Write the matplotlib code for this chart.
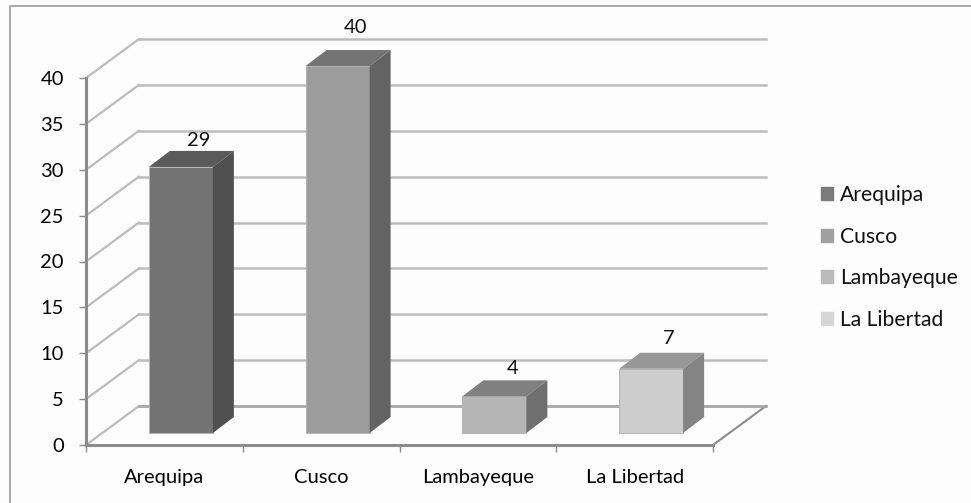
import matplotlib
matplotlib.use("Agg")
import matplotlib.pyplot as plt
import numpy as np
from matplotlib.lines import Line2D
from matplotlib.patches import Rectangle

categories = ["Arequipa", "Cusco", "Lambayeque", "La Libertad"]
values = [29, 40, 4, 7]
y_ticks = [0, 5, 10, 15, 20, 25, 30, 35, 40]

front_colors = ["#737373", "#9c9c9c", "#b5b5b5", "#cdcdcd"]
top_colors = ["#5a5a5a", "#747474", "#808080", "#979797"]
side_colors = ["#505050", "#636363", "#6f6f6f", "#848484"]
legend_colors = ["#7b7b7b", "#a0a0a0", "#bababa", "#d6d6d6"]
label_gaps = [0.25, 1.5, 0.35, 0.6]  # gap over each bar's top, in value units

W, H = 971, 503
X0, X1 = 86, 713  # front floor edge, px
Y0, Y40 = 445, 78  # value 0 and 40 on the front axis, px
ux = (X1 - X0) / len(categories)  # px per category
uy = (Y0 - Y40) / 40  # px per value

# oblique offsets in data units
wall_dx, wall_dy = 53 / ux, 39 / uy
depth_dx, depth_dy = 21 / ux, 16 / uy
lift = 12 / uy
bar_width = 64 / ux
bar_shift = 16.5 / ux

plt.rcParams["font.family"] = ["Lato", "DejaVu Sans"]
plt.rcParams["text.color"] = "#111111"

fig = plt.figure(figsize=(W / 100, H / 100), dpi=100, facecolor="#fdfdfd")
# only the left and top of the outer frame are in the crop
fig.add_artist(Line2D([10 / W, 10 / W, 1], [0, 1 - 6 / H, 1 - 6 / H], transform=fig.transFigure,
                      color="#a9a9a9", lw=1.4))

ax = fig.add_axes([X0 / W, 1 - Y0 / H, (X1 - X0) / W, (Y0 - Y40) / H])
ax.set_facecolor("none")
ax.set_xlim(0, 4)
ax.set_ylim(0, 40)

# gridlines on the back wall and the side wall
for v in y_ticks:
    ax.plot([0, wall_dx], [v, v + wall_dy], color="#bcbcbc", lw=1.6, clip_on=False, zorder=1)
    ax.plot([wall_dx, 4 + wall_dx], [v + wall_dy, v + wall_dy], color="#bcbcbc", lw=1.8,
            clip_on=False, zorder=1)
ax.plot([4, 4 + wall_dx], [0, wall_dy], color="#8c8c8c", lw=1.5, clip_on=False, zorder=1)
ax.plot([wall_dx, 4 + wall_dx], [wall_dy, wall_dy], color="#a6a6a6", lw=1.8, clip_on=False, zorder=1)

xs = np.arange(len(categories)) + 0.5
centers = xs + bar_shift
bars = ax.bar(centers, values, bar_width, bottom=lift, color=front_colors, edgecolor="#b4b4b4",
              linewidth=0.7, zorder=3, clip_on=False)

for x, v, gap, top, side in zip(centers, values, label_gaps, top_colors, side_colors):
    l, r = x - bar_width / 2, x + bar_width / 2
    t = v + lift
    ax.fill([l, r, r + depth_dx, l + depth_dx], [t, t, t + depth_dy, t + depth_dy],
            color=top, lw=0, clip_on=False, zorder=3)
    ax.fill([r, r + depth_dx, r + depth_dx, r], [lift, lift + depth_dy, t + depth_dy, t],
            color=side, lw=0, clip_on=False, zorder=3)
    ax.text(x + depth_dx * 0.85, t + depth_dy + gap, str(v), ha="center", va="bottom",
            fontsize=14.5, zorder=4)

for s in ["top", "right"]:
    ax.spines[s].set_visible(False)
for s in ["left", "bottom"]:
    ax.spines[s].set_color("#8c8c8c")
    ax.spines[s].set_linewidth(2.2)
    ax.spines[s].set_zorder(2)

ax.set_yticks(y_ticks)
ax.set_xticks(range(5))
ax.set_xticklabels([])
ax.set_xticks(xs, categories, minor=True)
ax.tick_params(axis="x", which="major", length=5, width=1.0, color="#8c8c8c")
ax.tick_params(axis="x", which="minor", length=0, pad=17, labelsize=14.5)
ax.tick_params(axis="y", length=5, width=1.0, color="#8c8c8c", labelsize=14.5, pad=11)

handles = [Rectangle((0, 0), 1, 1, color=c) for c in legend_colors]
fig.legend(handles, categories, loc="center left", bbox_to_anchor=(821 / W, 1 - 257.5 / H),
           frameon=False, fontsize=15.2, handlelength=0.58, handleheight=0.58,
           handletextpad=0.32, labelspacing=1.03, borderpad=0, borderaxespad=0)

fig.savefig("out.png", dpi=100, facecolor=fig.get_facecolor())
